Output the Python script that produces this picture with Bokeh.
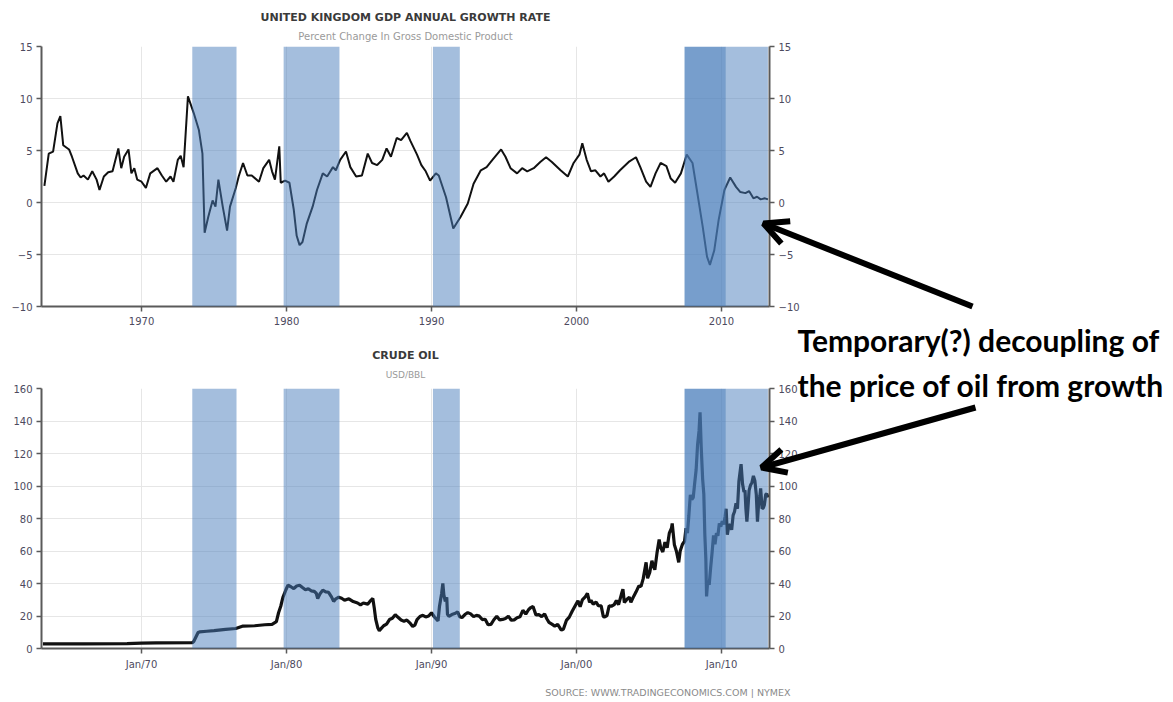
from bokeh.plotting import figure
from bokeh.models import (LinearAxis, FixedTicker, BoxAnnotation, Label, Arrow,
                          OpenHead, Range1d, GridBox)
from bokeh.embed import file_html
from bokeh.resources import INLINE

# ---------------- data ----------------
gdp_t = [1963.3, 1963.6, 1963.9, 1964.2, 1964.4, 1964.6, 1965.0, 1965.2, 1965.6, 1965.8,
         1966.0, 1966.3, 1966.6, 1966.9, 1967.1, 1967.4, 1967.7, 1968.0, 1968.4, 1968.6,
         1968.8, 1969.1, 1969.3, 1969.5, 1969.7, 1970.0, 1970.3, 1970.6, 1971.1, 1971.4,
         1971.7, 1972.0, 1972.2, 1972.5, 1972.7, 1972.9, 1973.2, 1973.6, 1973.95, 1974.2,
         1974.35, 1974.6, 1974.9, 1975.1, 1975.3, 1975.6, 1975.9, 1976.1, 1976.5, 1976.7,
         1977.0, 1977.3, 1977.6, 1978.1, 1978.4, 1978.8, 1979.0, 1979.2, 1979.5, 1979.6,
         1979.9, 1980.2, 1980.5, 1980.7, 1980.9, 1981.1, 1981.4, 1981.8, 1982.1, 1982.5,
         1982.8, 1983.2, 1983.4, 1983.7, 1984.1, 1984.4, 1984.8, 1985.2, 1985.6, 1985.9,
         1986.25, 1986.6, 1986.9, 1987.2, 1987.6, 1987.9, 1988.3, 1988.55, 1989.0, 1989.3,
         1989.6, 1989.9, 1990.3, 1990.5, 1991.0, 1991.5, 1992.0, 1992.5, 1992.9, 1993.4,
         1993.8, 1994.2, 1994.8, 1995.1, 1995.45, 1995.9, 1996.25, 1996.6, 1997.05, 1997.5,
         1997.9, 1998.3, 1998.9, 1999.4, 1999.8, 2000.2, 2000.4, 2000.7, 2001.0, 2001.3,
         2001.65, 2001.9, 2002.2, 2002.6, 2003.0, 2003.6, 2004.1, 2004.4, 2004.8, 2005.1,
         2005.45, 2005.8, 2006.2, 2006.5, 2006.8, 2007.2, 2007.6, 2008.0, 2008.3, 2008.7,
         2009.0, 2009.2, 2009.5, 2009.8, 2010.2, 2010.6, 2011.0, 2011.3, 2011.65, 2011.9,
         2012.2, 2012.45, 2012.7, 2013.0, 2013.2]
gdp_v = [1.6, 4.7, 4.9, 7.6, 8.3, 5.5, 5.1, 4.4, 2.8, 2.4,
         2.6, 2.2, 3.0, 2.2, 1.2, 2.5, 2.9, 3.0, 5.2, 3.3,
         4.4, 5.1, 2.8, 3.3, 2.2, 2.0, 1.4, 2.8, 3.3, 2.6,
         2.0, 2.5, 2.0, 4.1, 4.5, 3.4, 10.2, 8.6, 7.0, 4.7,
         -2.9, -1.4, 0.2, -0.4, 2.2, -0.4, -2.7, -0.4, 1.4, 2.5,
         3.8, 2.6, 2.6, 2.0, 3.3, 4.1, 3.0, 2.2, 5.4, 1.9,
         2.1, 1.9, -0.7, -3.2, -4.1, -3.8, -2.0, -0.4, 1.2, 2.8,
         2.5, 3.4, 3.1, 4.1, 4.9, 3.4, 2.5, 2.6, 4.7, 3.8,
         3.6, 4.1, 5.2, 4.4, 6.2, 6.0, 6.7, 5.9, 4.6, 3.6,
         3.0, 2.1, 2.8, 2.6, 0.5, -2.5, -1.4, -0.1, 1.8, 3.1,
         3.4, 4.1, 5.1, 4.4, 3.3, 2.8, 3.3, 3.0, 3.3, 3.9,
         4.35, 3.9, 3.1, 2.5, 3.8, 4.6, 5.7, 4.1, 3.0, 3.1,
         2.5, 2.8, 2.0, 2.5, 3.1, 3.9, 4.35, 3.4, 2.0, 1.5,
         2.8, 3.8, 3.5, 2.3, 1.9, 2.8, 4.6, 3.8, 1.2, -2.3,
         -5.2, -6.0, -4.6, -1.7, 1.2, 2.4, 1.5, 1.0, 0.9, 1.1,
         0.4, 0.55, 0.3, 0.4, 0.3]

oil_t = [1963.2, 1966.0, 1969.0, 1970.0, 1971.0, 1973.5, 1973.6, 1973.9, 1974.0, 1974.5,
         1975.0, 1975.8, 1976.5, 1977.0, 1977.8, 1978.5, 1979.0, 1979.3, 1979.45, 1979.6,
         1979.75, 1979.95, 1980.1, 1980.3, 1980.5, 1980.7, 1980.9, 1981.1, 1981.3, 1981.5,
         1981.7, 1981.9, 1982.05, 1982.15, 1982.3, 1982.5, 1982.7, 1982.9, 1983.1, 1983.25,
         1983.4, 1983.6, 1983.8, 1984.0, 1984.3, 1984.6, 1984.9, 1985.1, 1985.3, 1985.6,
         1985.8, 1985.95, 1986.05, 1986.15, 1986.3, 1986.4, 1986.55, 1986.7, 1986.9, 1987.1,
         1987.3, 1987.5, 1987.65, 1987.9, 1988.1, 1988.3, 1988.5, 1988.7, 1988.85, 1989.0,
         1989.2, 1989.4, 1989.6, 1989.8, 1990.0, 1990.2, 1990.45, 1990.55, 1990.7, 1990.78,
         1990.85, 1990.95, 1991.05, 1991.1, 1991.2, 1991.4, 1991.6, 1991.8, 1991.95, 1992.1,
         1992.3, 1992.5, 1992.7, 1992.9, 1993.1, 1993.3, 1993.5, 1993.7, 1993.9, 1994.1,
         1994.3, 1994.5, 1994.7, 1994.9, 1995.1, 1995.3, 1995.5, 1995.7, 1995.9, 1996.1,
         1996.3, 1996.5, 1996.7, 1996.85, 1997.0, 1997.2, 1997.4, 1997.6, 1997.8, 1997.95,
         1998.1, 1998.3, 1998.5, 1998.7, 1998.95, 1999.1, 1999.3, 1999.5, 1999.7, 1999.9,
         2000.1, 2000.25, 2000.4, 2000.6, 2000.75, 2000.9, 2001.0, 2001.15, 2001.35, 2001.5,
         2001.7, 2001.85, 2001.95, 2002.1, 2002.25, 2002.4, 2002.6, 2002.75, 2002.9, 2003.1,
         2003.2, 2003.3, 2003.5, 2003.65, 2003.75, 2003.95, 2004.1, 2004.3, 2004.45, 2004.6,
         2004.8, 2004.9, 2005.05, 2005.2, 2005.3, 2005.4, 2005.55, 2005.7, 2005.8, 2005.95,
         2006.1, 2006.25, 2006.4, 2006.55, 2006.6, 2006.75, 2006.9, 2007.05, 2007.15, 2007.3,
         2007.45, 2007.55, 2007.65, 2007.75, 2007.85, 2007.95, 2008.05, 2008.15, 2008.25, 2008.35,
         2008.45, 2008.52, 2008.6, 2008.7, 2008.78, 2008.85, 2008.92, 2008.97, 2009.05, 2009.15,
         2009.25, 2009.35, 2009.45, 2009.55, 2009.65, 2009.75, 2009.85, 2009.95, 2010.05, 2010.15,
         2010.25, 2010.32, 2010.4, 2010.5, 2010.6, 2010.7, 2010.8, 2010.9, 2011.0, 2011.1,
         2011.2, 2011.3, 2011.35, 2011.45, 2011.55, 2011.62, 2011.68, 2011.75, 2011.82, 2011.9,
         2012.0, 2012.1, 2012.2, 2012.3, 2012.4, 2012.48, 2012.55, 2012.65, 2012.7, 2012.8,
         2012.88, 2012.95, 2013.05, 2013.12, 2013.2]
oil_v = [2.9, 2.9, 3.0, 3.3, 3.5, 3.6, 4.3, 9.8, 10.2, 10.6,
         11.0, 11.8, 12.3, 13.8, 14.0, 14.6, 14.9, 16.5, 22.0, 26.0,
         31.5, 36.0, 39.0, 38.0, 36.9, 38.5, 38.9, 37.5, 36.2, 36.8,
         35.5, 35.2, 34.0, 30.8, 33.5, 35.9, 34.8, 34.6, 31.8, 29.0,
         30.6, 31.6, 30.9, 29.7, 30.6, 28.9, 28.0, 26.8, 28.0, 27.3,
         29.5, 30.8, 25.0, 18.0, 12.6, 11.0, 12.5, 14.0, 15.0, 17.8,
         18.6, 20.8, 19.5, 17.5, 16.8, 17.5, 15.8, 13.6, 14.4, 17.8,
         19.7, 20.4, 19.4, 20.0, 22.0, 19.4, 17.0, 26.0, 34.0, 40.0,
         33.0, 29.0, 31.5, 21.0, 19.8, 20.9, 21.5, 22.5, 19.5, 19.0,
         20.9, 22.1, 21.3, 19.6, 20.4, 19.9, 17.8, 18.0, 14.6, 14.8,
         17.7, 19.8, 17.6, 17.9, 18.5, 19.9, 17.4, 17.6, 18.9, 19.5,
         23.5, 21.2, 24.0, 25.2, 25.9, 20.7, 20.8, 19.6, 21.3, 18.3,
         16.1, 15.0, 13.8, 14.8, 11.3, 12.0, 17.3, 19.3, 22.9, 26.2,
         29.4, 25.7, 29.9, 31.7, 33.9, 28.4, 29.6, 27.3, 28.6, 26.4,
         26.2, 19.6, 19.4, 20.2, 26.3, 26.0, 27.0, 29.5, 27.0, 33.5,
         36.5, 28.3, 30.5, 31.6, 28.5, 32.2, 34.7, 38.5, 38.2, 43.0,
         53.0, 43.2, 46.8, 54.0, 50.5, 48.5, 58.7, 67.0, 62.3, 59.4,
         65.5, 62.0, 71.0, 74.0, 77.0, 63.8, 59.5, 53.0, 60.0, 64.0,
         66.0, 74.1, 71.0, 82.0, 94.5, 91.7, 92.9, 101.8, 110.0, 125.4,
         133.9, 145.3, 124.0, 104.1, 95.0, 70.0, 55.0, 32.0, 41.7, 39.2,
         49.6, 59.0, 69.6, 64.2, 71.0, 69.4, 77.0, 75.0, 78.3, 76.4,
         81.2, 86.0, 70.0, 75.3, 76.4, 73.0, 81.9, 84.3, 89.4, 86.0,
         102.9, 110.0, 113.4, 101.3, 96.3, 97.3, 86.3, 78.0, 86.0, 97.2,
         100.5, 102.2, 106.2, 103.3, 94.7, 78.0, 87.9, 94.1, 98.5, 86.0,
         86.5, 88.2, 94.8, 95.3, 92.9]

band_start = [1973.5, 1979.8, 1990.1, 2007.45, 2010.3]
band_end = [1976.55, 1983.65, 1991.95, 2010.3, 2013.2]
band_shade = ["light", "light", "light", "dark", "light"]

year_ticks = [1970, 1980, 1990, 2000, 2010]
year_labels_top = ["1970", "1980", "1990", "2000", "2010"]
year_labels_oil = ["Jan/70", "Jan/80", "Jan/90", "Jan/00", "Jan/10"]
gdp_ticks = [-10, -5, 0, 5, 10, 15]
oil_ticks = [0, 20, 40, 60, 80, 100, 120, 140, 160]

# ---------------- styling ----------------
W = 1165
H1, H2 = 328, 370
X0, X1 = 1963.1, 2013.31
BLUE = "#4a7ebb"
AX = "#5a5a5a"
TICKC = "#4d4a5e"
TF = "DejaVu Sans"


def style_axis(ax, ticks, overrides=None, standoff=4):
    ax.ticker = FixedTicker(ticks=ticks)
    ax.axis_line_color = AX
    ax.axis_line_width = 2
    ax.major_tick_line_color = AX
    ax.major_tick_line_width = 1.5
    ax.major_tick_out = 5
    ax.major_tick_in = 0
    ax.minor_tick_line_color = None
    ax.major_label_text_font = TF
    ax.major_label_text_font_size = "10px"
    ax.major_label_text_color = TICKC
    ax.major_label_standoff = standoff
    if overrides:
        ax.major_label_overrides = overrides


def make_fig(height, yr, ticks, btop, bbot, xlabels):
    p = figure(width=W, height=height, x_range=Range1d(X0, X1), y_range=yr,
               output_backend="svg", toolbar_location=None,
               min_border_left=41, min_border_right=W - 769,
               min_border_top=btop, min_border_bottom=bbot)
    p.outline_line_color = None
    p.background_fill_color = "white"
    p.border_fill_color = "white"
    style_axis(p.xaxis[0], year_ticks, {t: l for t, l in zip(year_ticks, xlabels)}, 5)
    style_axis(p.yaxis[0], ticks)
    right = LinearAxis()
    style_axis(right, ticks)
    p.add_layout(right, "right")
    p.xgrid.ticker = FixedTicker(ticks=year_ticks)
    p.ygrid.ticker = FixedTicker(ticks=ticks)
    p.xgrid.grid_line_color = "#e6e6e6"
    p.ygrid.grid_line_color = "#e6e6e6"
    return p


def add_bands(p):
    for s, e, sh in zip(band_start, band_end, band_shade):
        p.add_layout(BoxAnnotation(left=s, right=e, fill_color=BLUE,
                                   fill_alpha=0.75 if sh == "dark" else 0.5,
                                   line_color=None))


# ---------------- top chart ----------------
top = make_fig(H1, Range1d(-10, 15), gdp_ticks, 46, 22, year_labels_top)
top.line(gdp_t, gdp_v, line_color="#111111", line_width=2)
add_bands(top)

# ---------------- bottom chart ----------------
bot = make_fig(H2, Range1d(0, 160), oil_ticks, 388 - H1, H2 - (648 - H1), year_labels_oil)
bot.line(oil_t, oil_v, line_color="#111111", line_width=3.2)
add_bands(bot)

# ---------------- overlay (titles, notes, arrows; page pixels) ----------------
ov = figure(width=W, height=H1 + H2, x_range=Range1d(0, W), y_range=Range1d(H1 + H2, 0),
            x_axis_type=None, y_axis_type=None, output_backend="svg",
            toolbar_location=None, min_border=0)
ov.frame_align = False
ov.outline_line_color = None
ov.background_fill_alpha = 0
ov.border_fill_alpha = 0


def txt(x, y, s, size, color, bold=False, align="center", font=TF):
    ov.add_layout(Label(x=x, y=y, text=s, text_font=font, text_font_size=size,
                        text_font_style="bold" if bold else "normal", text_color=color,
                        text_align=align, text_baseline="middle"))


txt(405, 17, "UNITED KINGDOM GDP ANNUAL GROWTH RATE", "11px", "#3a3a3a", True)
txt(405, 36, "Percent Change In Gross Domestic Product", "10px", "#9a9a9a")
txt(405, 355, "CRUDE OIL", "11px", "#3a3a3a", True)
txt(405, 374, "USD/BBL", "9px", "#9a9a9a")
txt(790, 692, "SOURCE: WWW.TRADINGECONOMICS.COM | NYMEX", "9.5px", "#8a8a8a", align="right")
txt(797, 339, "Temporary(?) decoupling of", "30px", "black", True, "left", "Lato")
txt(797, 384, "the price of oil from growth", "30px", "black", True, "left", "Lato")

for (xs, ys, xe, ye) in [(972, 306, 763, 223), (975, 407, 761, 467)]:
    ov.add_layout(Arrow(end=OpenHead(size=24, line_width=6, line_color="black"),
                        x_start=xs, y_start=ys, x_end=xe, y_end=ye,
                        line_width=6, line_color="black"))

layout = GridBox(children=[(top, 0, 0), (bot, 1, 0), (ov, 0, 0, 2, 1)], spacing=0)
open("out.html", "w").write(file_html(layout, INLINE))
